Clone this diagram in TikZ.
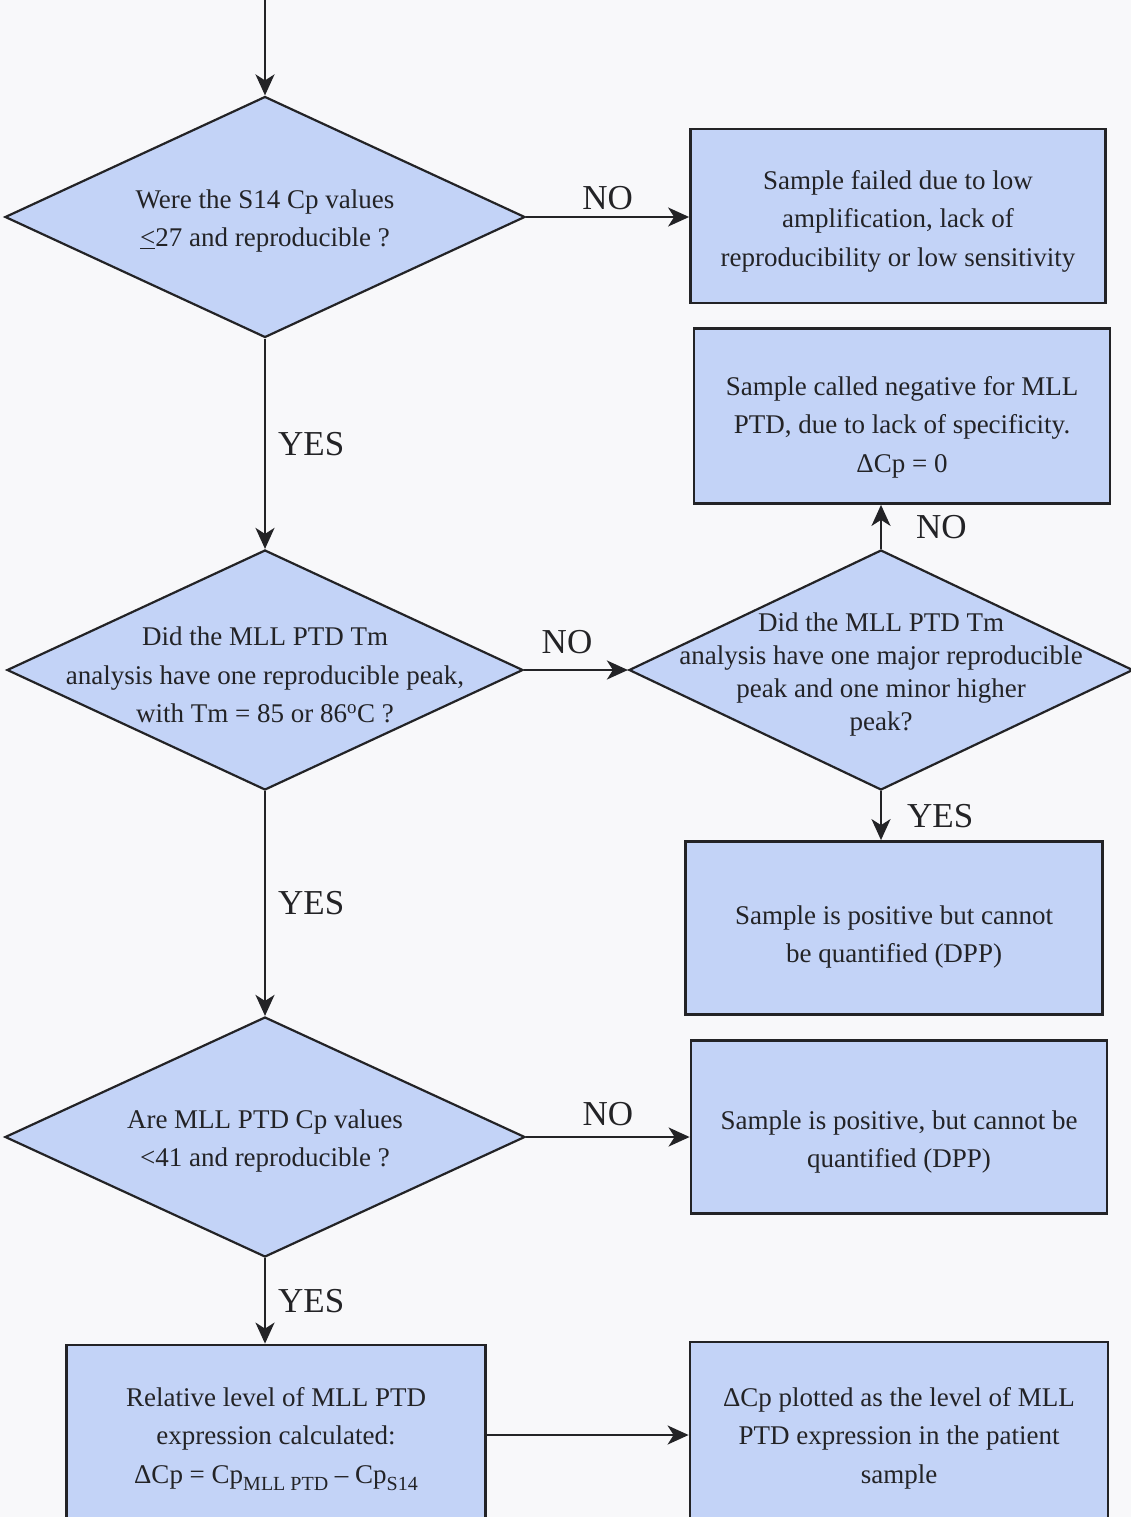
\documentclass[tikz,border=0pt]{standalone}
\usepackage{fontspec}
\setmainfont{Liberation Serif}
\usetikzlibrary{shapes.geometric,arrows.meta,positioning}

\definecolor{boxblue}{RGB}{195,211,247}
\definecolor{pagegray}{RGB}{248,248,250}
\definecolor{inkgray}{RGB}{35,35,38}
\newcommand{\bodyfont}{\fontsize{27}{38.5}\selectfont}
\newcommand{\subtext}[1]{\raisebox{-7pt}{\fontsize{20}{20}\selectfont #1}}

\begin{document}
\begin{tikzpicture}[x=1pt,y=-1pt,
  decision/.style={diamond, draw=inkgray, fill=boxblue, line width=2.2pt,
    inner sep=0pt, minimum width=520pt, minimum height=241pt},
  outcome/.style={rectangle, draw=inkgray, fill=boxblue, line width=2.8pt,
    minimum width=416pt, minimum height=174pt},
  qtext/.style={align=center, text=inkgray, font=\bodyfont, inner sep=0pt},
  flow/.style={draw=inkgray, line width=2.2pt,
    -{Stealth[length=21pt,width=19pt,inset=6pt]}},
  answer/.style={text=inkgray, font=\fontsize{35}{40}\selectfont, inner sep=0pt}]

% --- page (pixel coordinates, y downwards) ---
\clip (0,0) rectangle (1131,1517);
\fill[pagegray] (0,0) rectangle (1131,1517);

% --- decisions ---
\node[decision] (d1) at (265,217) {};
\node[qtext, yshift=-4pt] (d1t) at (d1) {Were the S14 Cp values\\\underline{<}27 and reproducible ?};

\node[decision, minimum width=516pt, minimum height=240pt] (d2) at (265,670) {};
\node[qtext, yshift=-5pt] (d2t) at (d2)
  {Did the MLL PTD Tm\\analysis have one reproducible peak,\\with Tm = 85 or 86\textsuperscript{o}C ?};

\node[decision, minimum width=504pt, minimum height=240pt] (d3) at (881,670) {};
\node[qtext, font=\fontsize{27}{33}\selectfont, yshift=-4pt] (d3t) at (d3)
  {Did the MLL PTD Tm\\analysis have one major reproducible\\peak and one minor higher\\peak?};

\node[decision, minimum height=240pt] (d4) at (265,1137) {};
\node[qtext, yshift=-4pt] (d4t) at (d4) {Are MLL PTD Cp values\\<41 and reproducible ?};

% --- outcomes ---
\node[outcome, minimum width=415pt] (box1) at (898,216) {};
\node[qtext, yshift=-5pt] (box1t) at (box1)
  {Sample failed due to low\\amplification, lack of\\reproducibility or low sensitivity};
\node[outcome, minimum height=175pt] (box2) at (902,416) {};
\node[qtext, yshift=-11pt] (box2t) at (box2)
  {Sample called negative for MLL\\PTD, due to lack of specificity.\\ΔCp = 0};
\node[outcome, minimum width=417pt, minimum height=173pt] (box3) at (894,928) {};
\node[qtext, yshift=-9pt] (box3t) at (box3)
  {Sample is positive but cannot\\be quantified (DPP)};
\node[outcome, minimum height=173pt] (box4) at (899,1127) {};
\node[qtext, yshift=-15pt] (box4t) at (box4)
  {Sample is positive, but cannot be\\quantified (DPP)};
\node[outcome, minimum width=419pt, minimum height=180pt] (box5) at (276,1435) {};
\node[qtext, yshift=-4pt] (box5t) at (box5)
  {Relative level of MLL PTD\\expression calculated:\\ΔCp = Cp\subtext{MLL PTD} – Cp\subtext{S14}};
\node[outcome, minimum width=418pt, minimum height=180pt] (box6) at (899,1432) {};
\node[qtext, yshift=-6pt] (box6t) at (box6)
  {ΔCp plotted as the level of MLL\\PTD expression in the patient\\sample};

% --- connectors ---
\coordinate (start) at (265,-5);
\draw[flow] (start) -- (d1.north);
\draw[flow] (d1.east) -- node[answer, above=6pt] (no1) {NO} (d1.east -| box1.west);
\draw[flow] (d1.south) -- node[answer, right=12pt] (yes1) {YES} (d2.north);
\draw[flow] (d2.east) -- node[answer, above=15pt, xshift=-9pt] (no2) {NO} (d3.west);
\draw[flow] (d3.north) -- node[answer, right=34pt] (no3) {NO} (d3.north |- box2.south);
\draw[flow] (d3.south) -- node[answer, right=25pt] (yes2) {YES} (d3.south |- box3.north);
\draw[flow] (d2.south) -- node[answer, right=12pt] (yes3) {YES} (d4.north);
\draw[flow] (d4.east) -- node[answer, above=10pt] (no4) {NO} (d4.east -| box4.west);
\draw[flow] (d4.south) -- node[answer, right=12pt] (yes4) {YES} (d4.south |- box5.north);
\draw[flow] (box5.east) -- (box5.east -| box6.west);
\end{tikzpicture}
\end{document}
